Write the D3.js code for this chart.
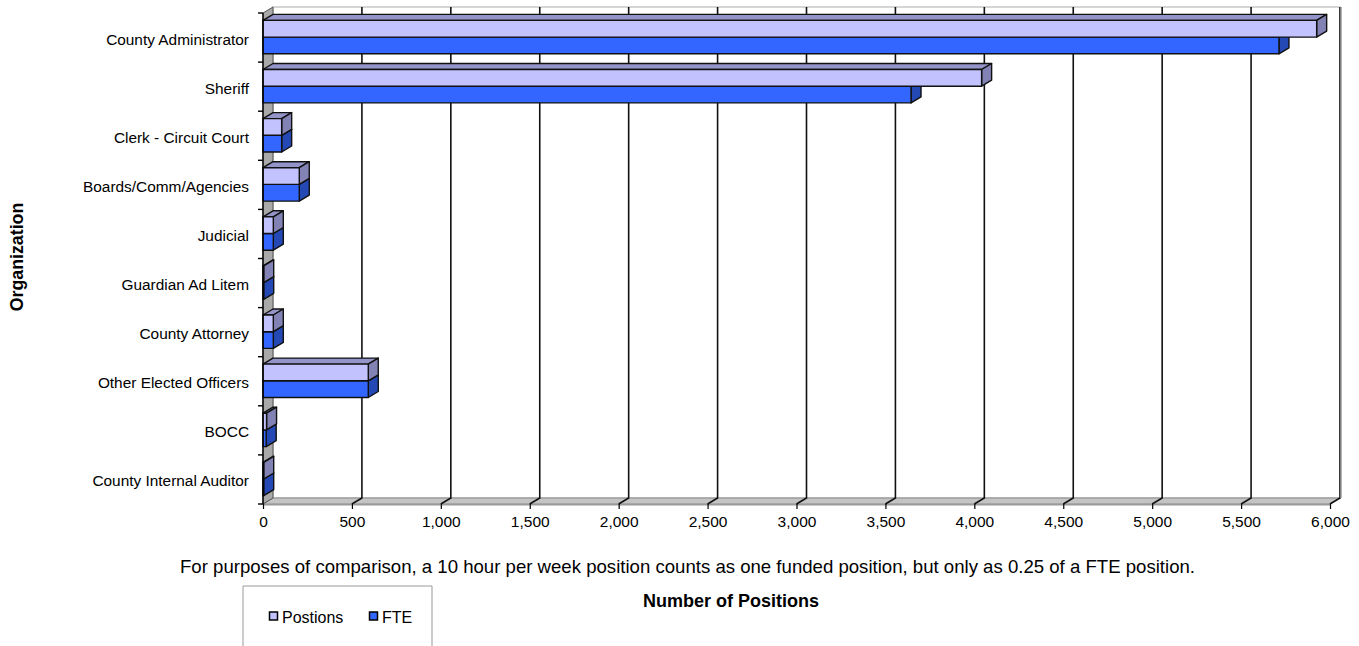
<!DOCTYPE html>
<html>
<head>
<meta charset="utf-8">
<script src="https://cdn.jsdelivr.net/npm/d3@7"></script>
<style>
  html, body { margin: 0; padding: 0; background: #fff; }
  svg { display: block; font-family: "Liberation Sans", Arial, sans-serif; }
</style>
</head>
<body>
<svg id="chart" width="1359" height="646"></svg>
<script>
// Funded positions and FTEs by organization
const categories = [
  "County Administrator", "Sheriff", "Clerk - Circuit Court", "Boards/Comm/Agencies",
  "Judicial", "Guardian Ad Litem", "County Attorney", "Other Elected Officers",
  "BOCC", "County Internal Auditor"
];
const positions = [5925, 4041, 105, 204, 58, 4, 58, 592, 20, 4];
const fte       = [5713, 3644, 105, 204, 58, 4, 58, 592, 18, 4];
const xTicks = [0, 500, 1000, 1500, 2000, 2500, 3000, 3500, 4000, 4500, 5000, 5500, 6000];
const seriesNames = ["Postions", "FTE"];

const svg = d3.select("#chart");

// plot geometry (front plane) and 3D depth offset
const x0 = 263, x1 = 1330, yTop = 13, yBot = 504;
const dx = 10, dy = 6;

const x = d3.scaleLinear().domain([0, 6000]).range([x0, x1]);
const y = d3.scaleBand().domain(categories).range([yTop, yBot]).paddingInner(0).paddingOuter(0);
const inner = d3.scaleBand().domain(seriesNames).range([7.4, 40.8]);

const faces = {
  Postions: { front: "#c2c2fe", top: "#9494c8", side: "#8282b4" },
  FTE:      { front: "#3366ff", top: "#2a50c8", side: "#2448b4" }
};

const poly = pts => "M" + pts.map(p => p.join(",")).join("L") + "Z";

// back wall
svg.append("path")
  .attr("d", poly([[x0 + dx, yTop - dy], [x1 + dx, yTop - dy], [x1 + dx, yBot - dy], [x0 + dx, yBot - dy]]))
  .attr("fill", "#fff").attr("stroke", "#c8c8c8").attr("stroke-width", 1.5);

// floor
svg.append("path")
  .attr("d", poly([[x0, yBot], [x0 + dx, yBot - dy], [x1 + dx, yBot - dy], [x1, yBot]]))
  .attr("fill", "#c4c4c4").attr("stroke", "#8a8a8a").attr("stroke-width", 1);
svg.append("path")
  .attr("d", poly([[x0, yBot], [x1, yBot], [x1, yBot + 1.5], [x0, yBot + 1.5]]))
  .attr("fill", "#9a9a9a");

// gridlines on back wall and across floor
const grid = svg.append("g").attr("stroke", "#111").attr("stroke-width", 1.6).attr("fill", "none");
xTicks.slice(1).forEach(v => {
  grid.append("path")
    .attr("d", `M${x(v) + dx},${yTop - dy}L${x(v) + dx},${yBot - dy}L${x(v)},${yBot}`);
});
// right edge of back wall
svg.append("line")
  .attr("x1", x1 + dx + 1).attr("x2", x1 + dx + 1).attr("y1", yTop - dy).attr("y2", yBot - dy)
  .attr("stroke", "#9a9a9a").attr("stroke-width", 1.5);

// left wall
svg.append("path")
  .attr("d", poly([[x0, yTop], [x0 + dx, yTop - dy], [x0 + dx, yBot - dy], [x0, yBot]]))
  .attr("fill", "#a9a9a9").attr("stroke", "#555").attr("stroke-width", 1);

// bars (FTE drawn first so the Positions bar overlaps its hidden top)
const bars = svg.append("g");
categories.forEach((c, i) => {
  [["FTE", fte[i]], ["Postions", positions[i]]].forEach(([s, v]) => {
    const yf = y(c) + inner(s), h = inner.bandwidth();
    const xl = x(0), xr = x(v);
    const col = faces[s];
    const g = bars.append("g").attr("stroke", "#111").attr("stroke-width", 1.4).attr("stroke-linejoin", "round");
    // top face
    g.append("path").attr("fill", col.top)
      .attr("d", poly([[xl, yf], [xl + dx, yf - dy], [xr + dx, yf - dy], [xr, yf]]));
    // side face
    g.append("path").attr("fill", col.side)
      .attr("d", poly([[xr, yf], [xr + dx, yf - dy], [xr + dx, yf + h - dy], [xr, yf + h]]));
    // front face
    g.append("rect").attr("fill", col.front)
      .attr("x", xl).attr("y", yf).attr("width", Math.max(0, xr - xl)).attr("height", h);
  });
});

// vertical axis line and ticks
const yAxisG = svg.append("g").attr("stroke", "#000").attr("stroke-width", 1.4);
yAxisG.append("line").attr("x1", x0).attr("x2", x0).attr("y1", yTop).attr("y2", yBot);
categories.concat(["_end"]).forEach((c, i) => {
  const yy = yTop + i * y.step();
  yAxisG.append("line").attr("x1", x0 - 5).attr("x2", x0).attr("y1", yy).attr("y2", yy);
});

// category labels
svg.append("g").selectAll("text").data(categories).join("text")
  .attr("x", 249).attr("y", d => y(d) + y.bandwidth() / 2 + 7)
  .attr("text-anchor", "end").attr("font-size", 15.4).attr("fill", "#000")
  .text(d => d);

// bottom axis
const xAxis = d3.axisBottom(x).tickValues(xTicks).tickSize(5).tickPadding(7)
  .tickFormat(d3.format(","));
const xg = svg.append("g").attr("transform", `translate(0,${yBot})`).call(xAxis);
xg.select(".domain").remove();
xg.selectAll(".tick line").attr("stroke", "#000").attr("stroke-width", 1.2);
xg.selectAll(".tick text").attr("font-size", 15.5).attr("fill", "#000")
  .attr("font-family", "Liberation Sans, Arial, sans-serif");

// axis titles and note
svg.append("text").attr("transform", "translate(22.5,257) rotate(-90)")
  .attr("text-anchor", "middle").attr("font-size", 17.8).attr("font-weight", "bold")
  .text("Organization");
svg.append("text").attr("x", 731).attr("y", 607).attr("text-anchor", "middle")
  .attr("font-size", 18).attr("font-weight", "bold").text("Number of Positions");
svg.append("text").attr("x", 180).attr("y", 572.5).attr("font-size", 18.6)
  .text("For purposes of comparison, a 10 hour per week position counts as one funded position, but only as 0.25 of a FTE position.");

// legend
const lg = svg.append("g");
lg.append("path").attr("d", `M243,660L243,586L432,586L432,660`)
  .attr("fill", "#fff").attr("stroke", "#999").attr("stroke-width", 1);
const legendX = [269.5, 369.5];
seriesNames.forEach((s, i) => {
  lg.append("rect").attr("x", legendX[i]).attr("y", 612).attr("width", 8).attr("height", 8)
    .attr("fill", faces[s].front).attr("stroke", "#000").attr("stroke-width", 1.5);
  lg.append("text").attr("x", legendX[i] + 12.5).attr("y", 622.5).attr("font-size", 16).text(s);
});
</script>
</body>
</html>
